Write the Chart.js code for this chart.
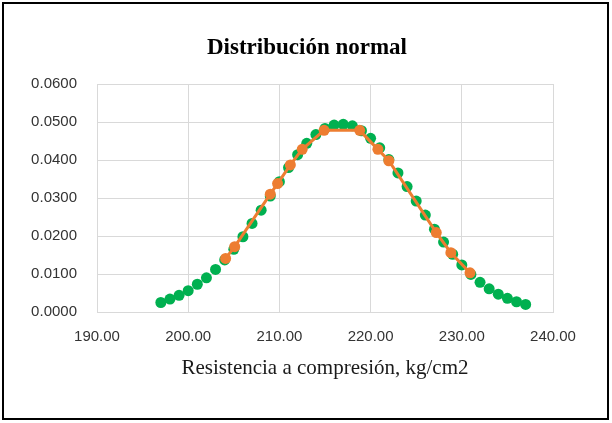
<!DOCTYPE html>
<html>
<head>
<meta charset="utf-8">
<script src="https://cdn.jsdelivr.net/npm/chart.js@4/dist/chart.umd.min.js"></script>
<style>
  html, body { margin: 0; padding: 0; background: #ffffff; }
  #wrap { width: 612px; height: 423px; position: relative; }
</style>
</head>
<body>
<div id="wrap"><canvas id="chart" width="612" height="423"></canvas></div>
<script>
// Normal density sampled across the measured range
const curveX = [197, 198, 199, 200, 201, 202, 203, 204, 205, 206, 207, 208, 209, 210, 211, 212, 213, 214, 215, 216, 217,
                218, 219, 220, 221, 222, 223, 224, 225, 226, 227, 228, 229, 230, 231, 232, 233, 234, 235, 236, 237];
const curveY = [0.0025, 0.0034, 0.0044, 0.0056, 0.0073, 0.0090, 0.0112, 0.0137, 0.0165, 0.0198, 0.0233,
                0.0268, 0.0305, 0.0343, 0.0380, 0.0414, 0.0444, 0.0467, 0.0483, 0.0492, 0.0494,
                0.0490, 0.0477, 0.0457, 0.0432, 0.0401, 0.0366, 0.0330, 0.0292, 0.0255, 0.0218,
                0.0184, 0.0152, 0.0124, 0.0099, 0.0078, 0.0061, 0.0047, 0.0036, 0.0027, 0.0020];

// Compressive strength samples and their density values
const sampleX = [204.1, 205.1, 209.0, 209.8, 211.2, 212.5, 214.9, 218.8, 220.8, 222.0, 227.2, 228.8, 230.9];
const sampleY = [0.0141, 0.0172, 0.0310, 0.0338, 0.0387, 0.0428, 0.0478, 0.0478, 0.0428, 0.0398, 0.0209, 0.0156, 0.0103];

const chartTitle = 'Distribución normal';
const xAxisTitle = 'Resistencia a compresión, kg/cm2';

const toPoints = (xs, ys) => xs.map((x, i) => ({ x: x, y: ys[i] }));

const frame = {
  id: 'frame',
  beforeDraw(chart) {
    const ctx = chart.ctx;
    ctx.save();
    ctx.fillStyle = '#ffffff';
    ctx.fillRect(0, 0, chart.width, chart.height);
    ctx.strokeStyle = '#000000';
    ctx.lineWidth = 2;
    ctx.strokeRect(3, 3, 605, 416);
    ctx.restore();
  },
  afterDraw(chart) {
    const ctx = chart.ctx;
    const a = chart.chartArea;
    const cx = (a.left + a.right) / 2;
    ctx.save();
    ctx.fillStyle = '#000000';
    ctx.textAlign = 'center';
    ctx.textBaseline = 'alphabetic';
    ctx.font = 'bold 23px "Liberation Serif", "Times New Roman", serif';
    ctx.fillText(chartTitle, 307, 54);
    ctx.fillStyle = '#1a1a1a';
    ctx.font = '21px "Liberation Serif", "Times New Roman", serif';
    ctx.fillText(xAxisTitle, cx, 374);
    ctx.restore();
  }
};

new Chart(document.getElementById('chart'), {
  type: 'scatter',
  data: {
    datasets: [
      {
        label: 'Muestras',
        data: toPoints(sampleX, sampleY),
        showLine: true,
        borderColor: '#ED7D31',
        backgroundColor: '#ED7D31',
        borderWidth: 3,
        pointRadius: 5.5,
        pointBorderWidth: 0,
        order: 0
      },
      {
        label: 'Curva normal',
        data: toPoints(curveX, curveY),
        showLine: false,
        borderColor: '#00B050',
        backgroundColor: '#00B050',
        pointRadius: 5.5,
        pointBorderWidth: 0,
        order: 1
      }
    ]
  },
  options: {
    responsive: false,
    animation: false,
    devicePixelRatio: 1,
    layout: { padding: { top: 84, left: 0, right: 59, bottom: 0 } },
    plugins: {
      legend: { display: false },
      title: { display: false },
      tooltip: { enabled: false }
    },
    scales: {
      x: {
        type: 'linear',
        min: 190,
        max: 240,
        afterFit(scale) { scale.height = 111; },
        ticks: {
          stepSize: 10,
          padding: 16,
          color: '#333333',
          font: { family: '"Liberation Sans", Arial, sans-serif', size: 15 },
          callback: (v) => Number(v).toFixed(2)
        },
        grid: { color: '#D9D9D9', lineWidth: 1, drawTicks: false, tickLength: 0 },
        border: { color: '#D9D9D9', width: 1 }
      },
      y: {
        min: 0,
        max: 0.06,
        afterFit(scale) { scale.width = 97; },
        ticks: {
          stepSize: 0.01,
          padding: 20,
          color: '#333333',
          font: { family: '"Liberation Sans", Arial, sans-serif', size: 15 },
          callback: (v) => Number(v).toFixed(4)
        },
        grid: { color: '#D9D9D9', lineWidth: 1, drawTicks: false, tickLength: 0 },
        border: { color: '#D9D9D9', width: 1 }
      }
    }
  },
  plugins: [frame]
});
</script>
</body>
</html>
